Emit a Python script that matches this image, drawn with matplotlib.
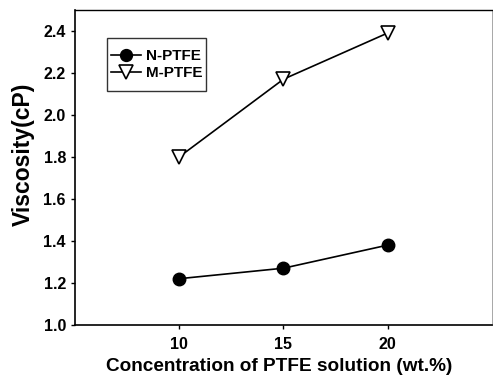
import matplotlib
matplotlib.use("Agg")
import matplotlib.pyplot as plt
from matplotlib.path import Path

conc = [10, 15, 20]
n_ptfe = [1.22, 1.27, 1.38]
m_ptfe = [1.80, 2.17, 2.39]

plt.rcParams['font.family'] = 'Liberation Sans'
plt.rcParams['font.weight'] = 'bold'


def tall_box(x0, y0, width, height, mutation_size):
    # legend frame with more room above and below than at the sides
    dy = 0.46 * mutation_size
    return Path([(x0, y0 - dy), (x0 + width, y0 - dy), (x0 + width, y0 + height + dy),
                 (x0, y0 + height + dy), (x0, y0 - dy)], closed=True)


fig = plt.figure(figsize=(4.93, 3.8), dpi=100)
ax = fig.add_axes([0.152, 0.145, 0.846, 0.829])

ax.plot(conc, n_ptfe, color='black', marker='o', markersize=9, lw=1.2, label='N-PTFE')
ax.plot(conc, m_ptfe, color='black', marker='v', markersize=10, markerfacecolor='white',
        markeredgewidth=1.2, lw=1.2, label='M-PTFE')

ax.set_xlim(5, 25)
ax.set_ylim(1.0, 2.5)
ax.set_xticks(conc)
ax.set_yticks([1.0, 1.2, 1.4, 1.6, 1.8, 2.0, 2.2, 2.4])
ax.tick_params(labelsize=11.5, direction='out', length=3, width=1)
ax.tick_params(axis='x', pad=6)
for lab in ax.get_xticklabels() + ax.get_yticklabels():
    lab.set_fontweight('bold')

ax.spines['right'].set_linewidth(0.6)
ax.spines['right'].set_color('0.6')
ax.spines['top'].set_linewidth(1.0)
ax.spines['left'].set_linewidth(1.2)
ax.spines['bottom'].set_linewidth(1.2)

ax.set_xlabel('Concentration of PTFE solution (wt.%)', fontsize=13.7, fontweight='bold')
ax.set_ylabel('Viscosity(cP)', fontsize=16.5, fontweight='bold')
ax.xaxis.set_label_coords(0.49, -0.105)
ax.yaxis.set_label_coords(-0.095, 0.54)

leg = ax.legend(loc='upper left', bbox_to_anchor=(0.077, 0.888), fontsize=11, frameon=True,
                fancybox=False, edgecolor='black', handlelength=2.0, handletextpad=0.3,
                borderpad=0.25, labelspacing=0.2, borderaxespad=0, markerscale=0.95)
leg.get_frame().set_linewidth(1.0)
leg.get_frame().set_boxstyle(tall_box)
for t in leg.get_texts():
    t.set_fontweight('bold')

fig.savefig('out.png', dpi=100)
